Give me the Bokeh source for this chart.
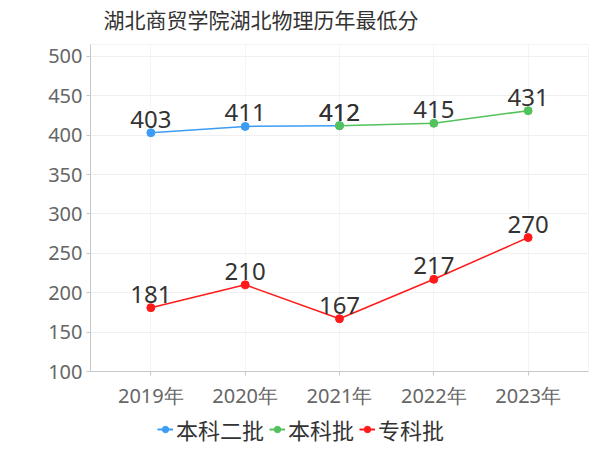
from bokeh.plotting import figure
from bokeh.layouts import column
from bokeh.models import FactorRange, Range1d, FixedTicker, Legend, LegendItem, ColumnDataSource, Label
from bokeh.core.properties import value
from bokeh.embed import file_html
from bokeh.resources import INLINE

title = "湖北商贸学院湖北物理历年最低分"
years = ["2019年", "2020年", "2021年", "2022年", "2023年"]

s1_name = "本科二批"
s1_x = ["2019年", "2020年", "2021年"]
s1_y = [403, 411, 412]

s2_name = "本科批"
s2_x = ["2021年", "2022年", "2023年"]
s2_y = [412, 415, 431]

s3_name = "专科批"
s3_x = ["2019年", "2020年", "2021年", "2022年", "2023年"]
s3_y = [181, 210, 167, 217, 270]

y_ticks = [100, 150, 200, 250, 300, 350, 400, 450, 500]

CJK = "Noto Sans CJK SC"
NUM = "Noto Sans"


def strip(h):
    f = figure(width=590, height=h, output_backend="svg", toolbar_location=None,
               x_range=FactorRange(*years), y_range=Range1d(10000, 10001),
               min_border_left=0, min_border_right=0, min_border_top=0, min_border_bottom=0)
    f.axis.visible = False
    f.grid.visible = False
    f.outline_line_color = None
    return f


# title strip
tt = strip(32)
tt.add_layout(Label(x=13, y=14, x_units="screen", y_units="screen", text=title,
                    text_font=CJK, text_font_size="21px", text_color="#333333",
                    text_align="left", text_baseline="middle"))

p = figure(width=590, height=379, output_backend="svg", toolbar_location=None,
           x_range=FactorRange(*years, range_padding=0.14, range_padding_units="absolute"),
           y_range=Range1d(100, 515),
           min_border_left=90, min_border_right=2, min_border_top=12, min_border_bottom=36)

p.outline_line_color = "#f3f3f3"
p.background_fill_color = "white"
p.border_fill_color = "white"

p.yaxis.ticker = FixedTicker(ticks=y_ticks)
p.yaxis.minor_tick_line_color = None
for ax in (p.xaxis, p.yaxis):
    ax.axis_line_color = "#c8c8c8"
    ax.major_tick_line_color = "#c8c8c8"
    ax.major_tick_out = 4
    ax.major_tick_in = 0
    ax.major_label_text_font = NUM
    ax.major_label_text_color = "#666666"
    ax.major_label_text_font_size = "20px"
p.yaxis.major_label_standoff = 4
p.xaxis.major_label_standoff = 6

p.xgrid.grid_line_color = "#f4f4f4"
p.ygrid.grid_line_color = "#f0f0f0"

series = [
    (s1_name, s1_x, s1_y, "#3d9df5"),
    (s2_name, s2_x, s2_y, "#52c25c"),
    (s3_name, s3_x, s3_y, "#ff1a1a"),
]

# legend strip
lg = strip(37)

items = []
for name, xs, ys, color in series:
    src = ColumnDataSource(dict(x=xs, y=ys, t=[str(v) for v in ys]))
    p.line("x", "y", source=src, line_color=color, line_width=1.5)
    p.scatter("x", "y", source=src, size=8, fill_color=color, line_color=color)
    p.text("x", "y", text="t", source=src, text_align="center", text_baseline="bottom",
           y_offset=-5, text_font=value(NUM), text_font_size="24px", text_color="#333333")
    ln = lg.line("x", "y", source=src, line_color=color, line_width=2)
    sc = lg.scatter("x", "y", source=src, size=8, fill_color=color, line_color=color)
    items.append(LegendItem(label=name, renderers=[ln, sc]))

legend = Legend(items=items, orientation="horizontal", location=(67, 3),
                label_text_font=CJK, label_text_font_size="22px", label_text_color="#333333",
                glyph_width=16, glyph_height=22, label_standoff=3, spacing=5,
                padding=0, margin=0, border_line_color=None, background_fill_alpha=0)
lg.add_layout(legend, "center")

open("out.html", "w").write(file_html(column(tt, p, lg), INLINE))
